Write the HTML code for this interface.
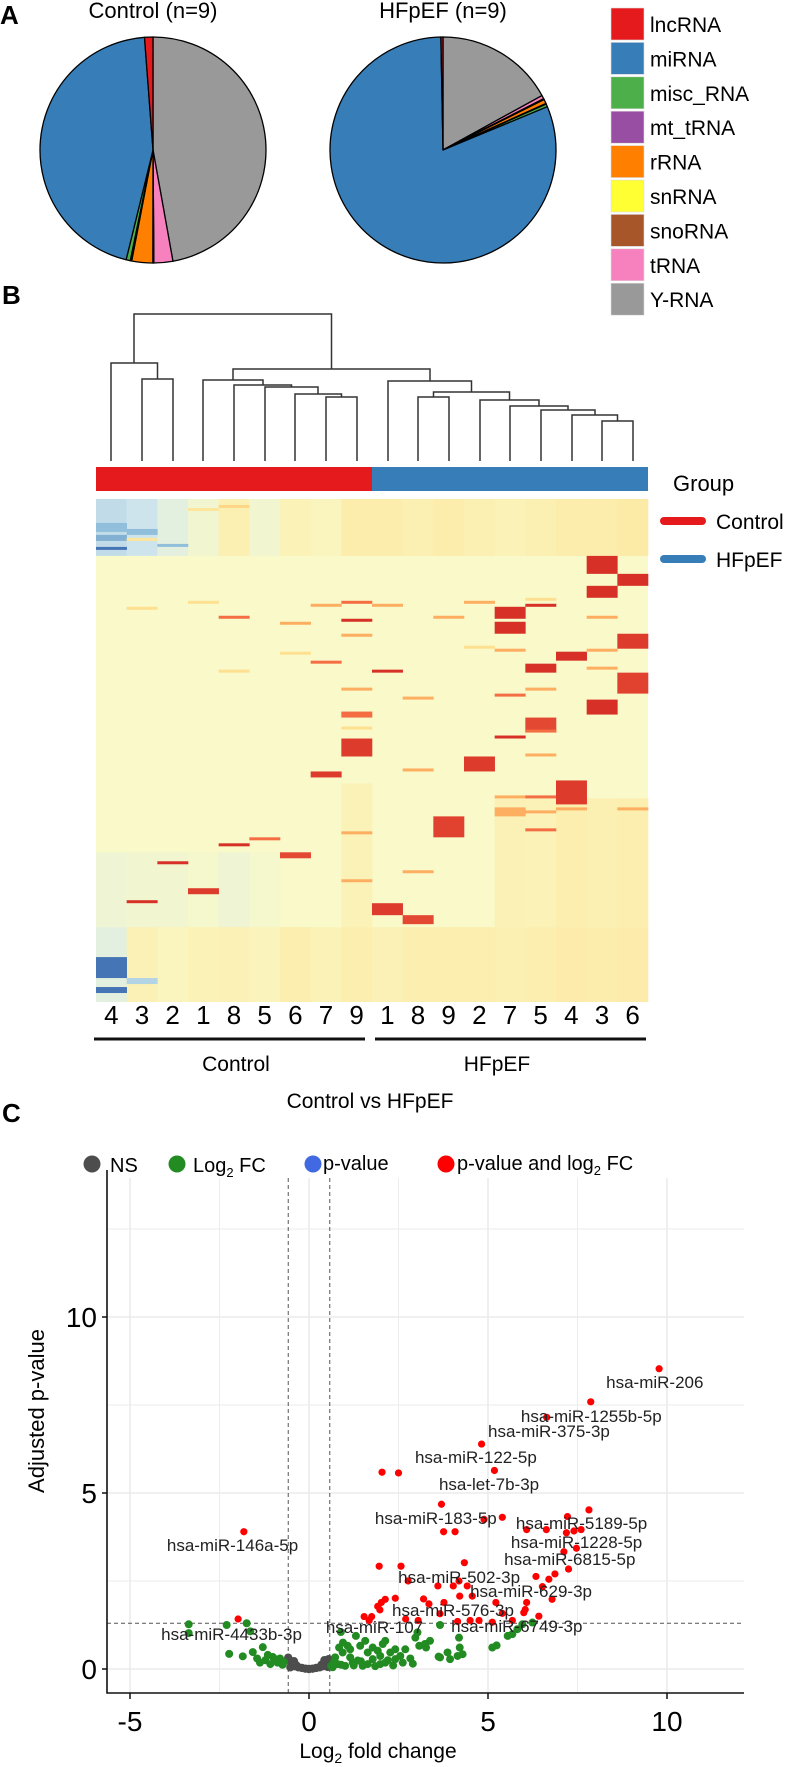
<!DOCTYPE html>
<html><head><meta charset="utf-8">
<style>
html,body{margin:0;padding:0;background:#fff;}
svg{display:block;font-family:"Liberation Sans",Arial,sans-serif;}
</style></head>
<body>
<svg id="fig" width="787" height="1767" viewBox="0 0 787 1767" xmlns="http://www.w3.org/2000/svg">
  <!-- Panel A -->
  <g id="panelA">
    <text x="0" y="24" font-size="26" font-weight="bold">A</text>
    <text x="153" y="18" font-size="22" text-anchor="middle">Control (n=9)</text>
    <text x="443" y="18" font-size="22" text-anchor="middle">HFpEF (n=9)</text>
    <g id="pies"></g>
    <g id="pieLegend"></g>
  </g>
  <!-- Panel B -->
  <g id="panelB">
    <text x="2" y="304" font-size="26" font-weight="bold">B</text>
    <path fill="none" stroke="#333" stroke-width="1.5"
      d="M142 461V379H173V461 M111 461V363H157.5V379
         M326 461V397H357V461 M295 461V394H341.5V397 M265 461V387H318V394 M234 461V385H291.5V387 M203 461V380H263V385
         M602 461V421H633V461 M572 461V415H617.5V421 M541 461V410H595V415 M510 461V406H568V410 M480 461V400H539V406
         M418 461V397H449V461 M433.5 397V392H509.5V400 M388 461V381H471.5V392
         M233 380V369H430V381 M134 363V314H331.5V369"/>
    <rect x="96" y="467" width="276" height="24" fill="#e41a1c"/>
    <rect x="372" y="467" width="276" height="24" fill="#377eb8"/>
    <g id="heatmap"></g>
    <g id="colLabels"></g>
    <line x1="94" y1="1039" x2="365" y2="1039" stroke="#111" stroke-width="3"/>
    <line x1="375" y1="1039" x2="646" y2="1039" stroke="#111" stroke-width="3"/>
    <text x="236" y="1071" font-size="21" text-anchor="middle">Control</text>
    <text x="497" y="1071" font-size="21" text-anchor="middle">HFpEF</text>
    <text x="370" y="1108" font-size="21" text-anchor="middle">Control vs HFpEF</text>
    <text x="673" y="491" font-size="22">Group</text>
    <line x1="664" y1="521" x2="702" y2="521" stroke="#e41a1c" stroke-width="8" stroke-linecap="round"/>
    <text x="716" y="529" font-size="21">Control</text>
    <line x1="664" y1="559" x2="702" y2="559" stroke="#377eb8" stroke-width="8" stroke-linecap="round"/>
    <text x="716" y="567" font-size="21">HFpEF</text>
  </g>
  <!-- Panel C -->
  <g id="panelC">
    <text x="2" y="1122" font-size="26" font-weight="bold">C</text>
    <g>
      <circle cx="92" cy="1164" r="8.5" fill="#4d4d4d"/>
      <text x="110" y="1172" font-size="20">NS</text>
      <circle cx="177" cy="1164" r="8.5" fill="#228b22"/>
      <text x="193" y="1172" font-size="20">Log<tspan font-size="13" dy="5">2</tspan><tspan dy="-5"> FC</tspan></text>
      <circle cx="313" cy="1164" r="8.5" fill="#4169e1"/>
      <text x="323" y="1170" font-size="20">p-value</text>
      <circle cx="446" cy="1164" r="8.5" fill="#ff0000"/>
      <text x="457" y="1170" font-size="20">p-value and log<tspan font-size="13" dy="5">2</tspan><tspan dy="-5"> FC</tspan></text>
    </g>
    <g id="volcano"></g>
    <text x="378" y="1758" font-size="21" text-anchor="middle">Log<tspan font-size="14" dy="5">2</tspan><tspan dy="-5"> fold change</tspan></text>
    <text transform="translate(44,1411) rotate(-90)" font-size="22" text-anchor="middle">Adjusted p-value</text>
  </g>
</svg>
<script>
// ---------- Panel A data ----------
const rnaTypes = ["lncRNA","miRNA","misc_RNA","mt_tRNA","rRNA","snRNA","snoRNA","tRNA","Y-RNA"];
const rnaColors = ["#e41a1c","#377eb8","#4daf4a","#984ea3","#ff7f00","#ffff33","#a65628","#f781bf","#999999"];
const controlShares = [1.2,45.0,0.6,0.2,3.0,0.05,0.1,2.7,47.2];
const hfpefShares = [0.3,81.0,0.4,0.1,0.6,0.05,0.1,0.5,17.0];

// ---------- Panel B data (heatmap) ----------
const sampleLabels = ["4","3","2","1","8","5","6","7","9","1","8","9","2","7","5","4","3","6"];
const heatRows = 168;
// zones: [column, rowStart, rowCount, level]
const heatZones = [
  [0,0,19,-1.3],[1,0,19,-1.1],[2,0,19,-0.6],[3,0,19,-0.2],[4,0,19,0.4],[5,0,19,-0.2],[6,0,19,0.3],[7,0,19,0.2],[8,0,19,0.5],
  [9,0,19,0.5],[10,0,19,0.4],[11,0,19,0.5],[12,0,19,0.4],[13,0,19,0.3],[14,0,19,0.4],[15,0,19,0.5],[16,0,19,0.5],[17,0,19,0.6],
  [0,118,25,-0.3],[1,118,25,-0.2],[2,118,25,-0.2],[3,118,25,-0.1],[4,118,25,-0.3],[5,118,25,-0.1],
  [8,95,48,0.3],[13,100,43,0.35],[14,100,43,0.3],[15,100,43,0.45],[16,100,43,0.4],[17,100,43,0.45],
  [0,143,25,-0.6],[1,143,25,0.35],[2,143,25,0.2],[3,143,25,0.3],[4,143,25,0.35],[5,143,25,0.25],[6,143,25,0.45],[7,143,25,0.3],[8,143,25,0.45],
  [9,143,25,0.35],[10,143,25,0.45],[11,143,25,0.45],[12,143,25,0.45],[13,143,25,0.4],[14,143,25,0.45],[15,143,25,0.55],[16,143,25,0.5],[17,143,25,0.55]
];
// hot and cold blocks: [column, rowStart, rowCount, level]
const heatBlocks = [
  [0,8,2,-2],[0,10,1,-2],[0,12,2,-2.2],[0,16,1,-3],[1,10,2,-2],[1,13,1,0.8],[2,15,1,-2],[3,3,1,0.8],[4,2,1,1.2],
  [1,36,1,1],[3,34,1,1],
  [4,39,1,3],[4,57,1,1],[4,115,1,4],
  [6,41,1,2],[6,51,1,1],[6,118,2,3.6],
  [7,35,1,2],[7,54,1,3],[7,91,2,3.8],
  [8,34,1,3],[8,40,1,4],[8,45,1,2],[8,63,1,2],[8,71,2,3],[8,76,1,1],[8,80,6,3.8],[8,111,1,2],[8,127,1,2],
  [9,35,1,2],[9,57,1,4],[9,135,4,3.8],
  [10,66,1,2],[10,90,1,2],[10,124,1,2],[10,139,3,3.6],
  [11,39,1,2],[11,106,7,3.7],
  [12,34,1,2],[12,49,1,1],[12,86,5,3.8],
  [13,36,4,4],[13,41,4,4],[13,50,1,2],[13,65,1,3],[13,79,1,4],[13,99,1,2],[13,103,3,2],
  [14,33,1,1],[14,35,1,4],[14,55,3,4],[14,63,1,2],[14,73,5,3.6],[14,77,1,3],[14,85,1,2],[14,99,1,3],[14,104,1,2],[14,110,1,3],
  [15,51,3,4],[15,94,8,3.8],[15,103,1,2],
  [16,19,6,4],[16,29,4,4],[16,39,1,2],[16,50,1,2],[16,56,1,2],[16,67,5,4],
  [17,25,4,4],[17,45,5,3.8],[17,58,7,3.7],[17,103,1,2],
  [2,121,1,4],[3,130,2,3.8],[1,134,1,4],[5,113,1,3],
  [0,153,7,-3],[0,163,2,-3],[1,160,2,-1.5]
];

// ---------- Panel C data (volcano) ----------
const redFC = [9.78,7.87,6.64,4.82,5.18,2.04,2.50,3.70,5.40,4.89,3.76,4.08,7.22,7.82,6.08,6.63,7.19,7.40,7.60,7.12,7.47,-1.82,4.34,1.96,2.57,2.77,6.34,6.70,6.87,7.25,3.60,4.03,4.19,4.42,6.52,6.79,4.21,4.56,6.08,5.22,5.40,6.00,6.42,3.20,3.35,3.77,2.41,2.13,2.02,1.92,1.98,1.54,1.75,1.68,2.70,3.05,3.66,4.15,4.50,4.75,5.12,-1.98,6.04,5.68];
const redP  = [8.53,7.59,7.15,6.39,5.64,5.59,5.57,4.68,4.31,4.25,3.90,3.90,4.33,4.52,3.96,3.96,3.87,3.92,3.96,3.33,3.43,3.90,3.02,2.92,2.92,2.50,2.63,2.55,2.70,2.84,2.36,2.36,2.50,2.36,2.34,1.98,2.07,2.07,1.89,1.89,1.58,1.60,1.50,1.99,1.85,1.89,2.01,1.98,1.89,1.78,1.68,1.49,1.49,1.38,1.42,1.38,1.57,1.35,1.38,1.38,1.33,1.42,1.69,1.38];
const greenFC = [-3.36,-3.36,-2.30,-1.74,-1.64,-2.23,-1.85,-1.57,-1.29,-1.22,-1.01,-0.88,-1.37,-1.08,-0.81,-0.74,-1.15,-0.95,-1.45,-0.70,
  0.89,0.95,1.15,1.31,1.43,1.64,1.78,1.99,2.13,2.27,2.41,2.55,2.83,2.97,3.08,3.38,3.27,3.62,3.87,4.21,4.15,4.29,3.66,4.19,5.12,5.24,5.55,5.68,5.82,5.96,6.24,
  1.22,1.01,0.80,0.73,0.62,1.64,1.99,1.15,1.36,1.50,1.78,1.92,2.13,2.41,2.62,2.69,0.94,1.08,1.57,2.06,0.84,3.66,3.94,3.24,3.03,0.70,0.66,0.90,1.25,1.45,1.85,2.20,2.35,2.90];
const greenP = [1.27,1.02,1.25,1.30,1.07,0.43,0.36,0.48,0.62,0.25,0.34,0.18,0.18,0.14,0.30,0.12,0.40,0.28,0.30,0.20,
  1.05,0.75,0.56,0.94,0.66,0.47,0.61,0.37,0.80,0.47,0.28,0.37,0.30,0.89,0.66,0.80,0.61,0.35,0.47,0.61,0.37,0.42,1.25,0.89,0.61,0.67,0.94,0.99,1.13,1.27,1.32,
  0.18,0.09,0.14,0.33,0.09,0.14,0.14,0.33,0.24,0.09,0.28,0.52,0.18,0.56,0.18,0.56,0.47,0.66,0.80,0.71,0.61,0.33,0.28,0.71,1.04,0.20,0.05,0.12,0.10,0.22,0.08,0.25,0.10,0.15];
const grayFC = [-0.58,-0.55,-0.50,-0.45,-0.40,-0.35,-0.30,-0.20,-0.10,0.00,0.10,0.20,0.30,0.35,0.40,0.45,0.50,0.55,-0.52,0.52,-0.42,0.43];
const grayP  = [0.32,0.25,0.18,0.12,0.08,0.10,0.05,0.03,0.01,0.00,0.01,0.03,0.05,0.12,0.08,0.15,0.22,0.28,0.05,0.06,0.22,0.25];
const labelText = ["hsa-miR-206","hsa-miR-1255b-5p","hsa-miR-375-3p","hsa-miR-122-5p","hsa-let-7b-3p","hsa-miR-183-5p","hsa-miR-5189-5p","hsa-miR-146a-5p","hsa-miR-1228-5p","hsa-miR-6815-5p","hsa-miR-502-3p","hsa-miR-629-3p","hsa-miR-576-3p","hsa-miR-6749-3p","hsa-miR-107","hsa-miR-4433b-3p"];
const labelFC = [8.30,5.92,5.00,2.96,3.63,1.84,5.78,-3.97,5.64,5.45,2.49,4.50,2.32,3.97,0.47,-4.13];
const labelP  = [7.98,7.02,6.59,5.85,5.09,4.12,3.98,3.35,3.44,2.95,2.44,2.05,1.51,1.05,1.02,0.82];
const xTicks = [-5,0,5,10];
const yTicks = [0,5,10];
const fcCut = 0.58, pCut = 1.3;

const NS = "http://www.w3.org/2000/svg";
function mk(tag, attrs, parent){ const e=document.createElementNS(NS,tag); for(const k in attrs) e.setAttribute(k,attrs[k]); parent.appendChild(e); return e; }

// ---------- Pies ----------
(function(){
  const g=document.getElementById('pies');
  function pie(cx,cy,r,vals,name){
    const total=vals.reduce((a,b)=>a+b,0);
    let ang=0;
    for(let k=vals.length-1;k>=0;k--){
      const a0=ang, a1=ang+vals[k]/total*2*Math.PI; ang=a1;
      const x0=cx+r*Math.sin(a0), y0=cy-r*Math.cos(a0), x1=cx+r*Math.sin(a1), y1=cy-r*Math.cos(a1);
      const large=(a1-a0)>Math.PI?1:0;
      const p=mk('path',{d:`M${cx},${cy}L${x0},${y0}A${r},${r} 0 ${large} 1 ${x1},${y1}Z`,fill:rnaColors[k],stroke:'#000','stroke-width':1.3,'stroke-linejoin':'round'},g);
      
      
    }
  }
  pie(153,150,113,controlShares,'control-pie');
  pie(443,150,113,hfpefShares,'hfpef-pie');
  const lg=document.getElementById('pieLegend');
  rnaTypes.forEach((t,i)=>{
    const y0=8+i*34.4;
    const r=mk('rect',{x:611,y:y0,width:33,height:32,fill:rnaColors[i],stroke:'#ddd','stroke-width':0.6},lg);
    
    
    const tx=mk('text',{x:650,y:y0+24,'font-size':21},lg); tx.textContent=t;
    
    
  });
})();

// ---------- Heatmap ----------
(function(){
  const g=document.getElementById('heatmap');
  const left=96, top=499, colW=(648-96)/18, rowH=(1002-499)/heatRows;
  const stops=[[-3,[69,117,180]],[-2,[145,191,219]],[-1,[213,232,238]],[0,[249,249,201]],[1,[254,224,144]],[2,[253,174,97]],[3,[244,109,67]],[4,[215,48,39]]];
  function color(v){
    v=Math.max(-3,Math.min(4,v));
    for(let i=0;i<stops.length-1;i++){
      if(v<=stops[i+1][0]){const t=(v-stops[i][0])/(stops[i+1][0]-stops[i][0]);
        const c=stops[i][1].map((a,j)=>Math.round(a+(stops[i+1][1][j]-a)*t)); return `rgb(${c[0]},${c[1]},${c[2]})`;}
    }
    return 'rgb(215,48,39)';
  }
  const bg=mk('rect',{x:left,y:top,width:colW*18,height:rowH*heatRows,fill:color(0)},g);
  
  
  heatZones.forEach(z=>{
    const r=mk('rect',{x:left+z[0]*colW,y:top+z[1]*rowH,width:colW+0.3,height:z[2]*rowH,fill:color(z[3])},g);
    
    
  });
  heatBlocks.forEach(b=>{
    const r=mk('rect',{x:left+b[0]*colW,y:top+b[1]*rowH,width:colW+0.3,height:b[2]*rowH,fill:color(b[3])},g);
    
    
  });
  const cl=document.getElementById('colLabels');
  sampleLabels.forEach((s,i)=>{
    const t=mk('text',{x:left+(i+0.5)*colW,y:1024,'font-size':26,'text-anchor':'middle'},cl);
    t.textContent=s;
    
    
  });
})();

// ---------- Volcano ----------
(function(){
  const g=document.getElementById('volcano');
  const X=v=>309+v*35.8, Y=v=>1669-v*35.2;
  const L=107,R=744,T=1170,B=1693;
  [-5,-2.5,0,2.5,5,7.5,10].forEach(v=>{const l=mk('line',{x1:X(v),x2:X(v),y1:1178,y2:B,stroke:'#ebebeb','stroke-width':(v%5===0)?1.6:0.9},g);
     });
  [0,2.5,5,7.5,10,12.5].forEach(v=>{const l=mk('line',{x1:L,x2:R,y1:Y(v),y2:Y(v),stroke:'#ebebeb','stroke-width':(v%5===0)?1.6:0.9},g);
     });
  [-fcCut,fcCut].forEach(v=>{const l=mk('line',{x1:X(v),x2:X(v),y1:1178,y2:B,stroke:'#555','stroke-width':1,'stroke-dasharray':'4,3'},g);
     });
  const hl=mk('line',{x1:L,x2:R,y1:Y(pCut),y2:Y(pCut),stroke:'#555','stroke-width':1,'stroke-dasharray':'4,3'},g);
   
  grayFC.forEach((v,i)=>{const c=mk('circle',{cx:X(v),cy:Y(grayP[i]),r:4.2,fill:'#4d4d4d'},g);
     });
  greenFC.forEach((v,i)=>{const c=mk('circle',{cx:X(v),cy:Y(greenP[i]),r:4,fill:'#228b22'},g);
     });
  redFC.forEach((v,i)=>{const c=mk('circle',{cx:X(v),cy:Y(redP[i]),r:3.6,fill:'#ff0000'},g);
     });
  labelText.forEach((s,i)=>{const t=mk('text',{x:X(labelFC[i]),y:Y(labelP[i]),'font-size':17,fill:'#222'},g);
    t.textContent=s;  });
  const ax=mk('path',{d:`M${L},${T}V${B}H${R}`,fill:'none',stroke:'#111','stroke-width':1.6},g);
   
  xTicks.forEach(v=>{
    const l=mk('line',{x1:X(v),x2:X(v),y1:B,y2:B+6,stroke:'#111','stroke-width':1.5},g);
     
    const t=mk('text',{x:X(v),y:1731,'font-size':28,'text-anchor':'middle'},g); t.textContent=v;
     
  });
  yTicks.forEach(v=>{
    const l=mk('line',{x1:L-5,x2:L,y1:Y(v),y2:Y(v),stroke:'#111','stroke-width':1.5},g);
     
    const t=mk('text',{x:L-10,y:Y(v)+10,'font-size':28,'text-anchor':'end'},g); t.textContent=v;
     
  });
})();
</script>
</body></html>
